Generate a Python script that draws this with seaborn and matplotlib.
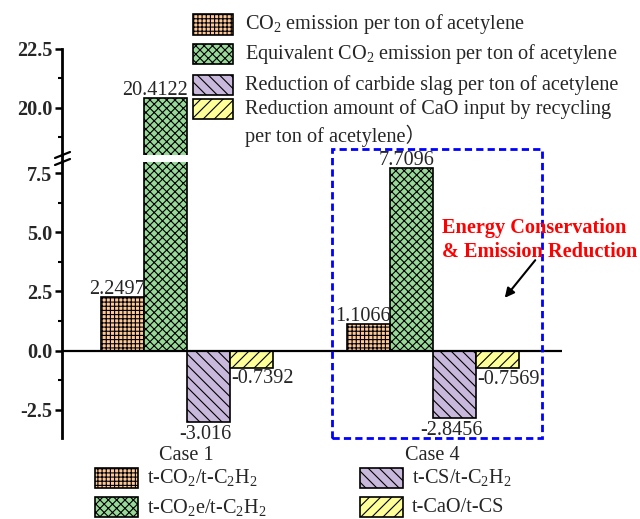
import numpy as np
import pandas as pd
import matplotlib
matplotlib.use("Agg")
import matplotlib.pyplot as plt
from matplotlib.patches import Rectangle, FancyArrowPatch
from matplotlib.lines import Line2D
from matplotlib.ticker import FixedLocator
import seaborn as sns

# ---- data -------------------------------------------------------------
cases = ["Case 1", "Case 4"]
co2_emission = [2.2497, 1.1066]
co2_equivalent = [20.4122, 7.7096]
slag_reduction = [-3.016, -2.8456]
cao_reduction = [-0.7392, -0.7569]

series_keys = ["t-CO2/t-C2H2", "t-CO2e/t-C2H2", "t-CS/t-C2H2", "t-CaO/t-CS"]
short_labels = [r"t-CO$_2$/t-C$_2$H$_2$", r"t-CO$_2$e/t-C$_2$H$_2$",
                r"t-CS/t-C$_2$H$_2$", "t-CaO/t-CS"]
long_labels = [[r"CO$_2$ emission per ton of acetylene"],
               [r"Equivalent CO$_2$ emission per ton of acetylene"],
               ["Reduction of carbide slag per ton of acetylene"],
               ["Reduction amount of CaO input by recycling",
                "per ton of acetylene\uff09"]]
colors = ["#FFC896", "#98D898", "#C8B9DC", "#FFFF99"]
hatches = ["++++", "xxxx", "\\\\\\", "///"]

lower_ticks = [-2.5, 0.0, 2.5, 5.0, 7.5]
lower_minor = [-1.25, 1.25, 3.75, 6.25]
upper_ticks = [20.0, 22.5]
upper_minor = [18.75, 21.25]

series_values = [co2_emission, co2_equivalent, slag_reduction, cao_reduction]
df = pd.DataFrame({
    "case": cases * len(series_keys),
    "metric": np.repeat(series_keys, len(cases)),
    "value": np.concatenate(series_values),
})

# ---- style ------------------------------------------------------------
sns.set_theme(style="white")
plt.rcParams["font.family"] = ["Liberation Serif", "Noto Sans CJK SC"]
plt.rcParams["mathtext.fontset"] = "custom"
plt.rcParams["mathtext.rm"] = "Liberation Serif"
plt.rcParams["mathtext.it"] = "Liberation Serif:italic"
plt.rcParams["mathtext.bf"] = "Liberation Serif:bold"
plt.rcParams["hatch.linewidth"] = 0.8

FS = 14.6
W, H = 640, 519


def fx(x):
    return x / W


def fy(y):
    return 1 - y / H


fig = plt.figure(figsize=(W / 100, H / 100), dpi=100)

ax_lo = fig.add_axes([fx(62), fy(438), 500 / W, 276 / H])
ax_hi = fig.add_axes([fx(62), fy(155), 500 / W, 106 / H])
ax_hi.patch.set_visible(False)

for ax in (ax_lo, ax_hi):
    sns.barplot(data=df, x="case", y="value", hue="metric",
                hue_order=series_keys, palette=colors, saturation=1,
                width=0.7, edgecolor="black", linewidth=1.2,
                errorbar=None, legend=False, ax=ax)
    for container, h in zip(ax.containers, hatches):
        for bar in container:
            bar.set_hatch(h)
    ax.set_xlim(-0.507, 1.526)
    ax.set_xlabel("")
    ax.set_ylabel("")
    for side in ("top", "right", "bottom"):
        ax.spines[side].set_visible(False)
    ax.spines["left"].set_linewidth(2)
    ax.spines["left"].set_color("black")
    ax.tick_params(axis="y", which="major", direction="out", length=5,
                   width=1.8, color="black", left=True, pad=2)
    ax.tick_params(axis="y", which="minor", direction="out", length=3,
                   width=1.5, color="black", left=True)

ax_lo.set_ylim(-3.7, 7.98)
ax_hi.set_ylim(18.0, 22.5)

ax_lo.yaxis.set_major_locator(FixedLocator(lower_ticks))
ax_lo.yaxis.set_minor_locator(FixedLocator(lower_minor))
ax_hi.yaxis.set_major_locator(FixedLocator(upper_ticks))
ax_hi.yaxis.set_minor_locator(FixedLocator(upper_minor))
for ax in (ax_lo, ax_hi):
    ax.set_yticklabels([f"{t:.1f}" for t in ax.get_yticks()],
                       fontsize=FS, fontweight="bold")

ax_hi.set_xticks([])
ax_lo.set_xticks(range(len(cases)))
ax_lo.set_xticklabels(cases, fontsize=FS)
ax_lo.tick_params(axis="x", length=0, pad=6)

ax_lo.axhline(0, color="black", lw=1.6, zorder=5)

# highlighted region around Case 4 (kept beneath the value labels)
ax_lo.add_patch(Rectangle((fx(332), fy(438)), 210 / W, 289 / H, fill=False,
                          edgecolor="#0000FF", lw=2, ls=(0, (2.6, 1.5)),
                          transform=fig.transFigure, clip_on=False,
                          zorder=6))

# value labels on the bars
lo_top = ax_lo.get_ylim()[1]
for i, (container, vals) in enumerate(zip(ax_lo.containers, series_values)):
    for bar, v in zip(container, vals):
        txt = f"{v:g}"
        if v > 0:
            target = ax_hi if v > lo_top else ax_lo
            target.annotate(txt, xy=(bar.get_x() + bar.get_width(), v),
                            xytext=(1, -1), textcoords="offset points",
                            ha="right", va="bottom", fontsize=FS,
                            annotation_clip=False, zorder=8)
        elif i == 2:
            ax_lo.annotate(txt, xy=(bar.get_x() + bar.get_width() / 2, v),
                           xytext=(-2, -2), textcoords="offset points",
                           ha="center", va="top", fontsize=FS,
                           annotation_clip=False, zorder=8)
        else:
            ax_lo.annotate(txt, xy=(bar.get_x(), v),
                           xytext=(1, -1), textcoords="offset points",
                           ha="left", va="top", fontsize=FS,
                           annotation_clip=False, zorder=8)

# continuous axis line across the break, with break marks
fig.add_artist(Line2D([fx(62), fx(62)], [fy(155), fy(162)], lw=2,
                      color="black", transform=fig.transFigure))
for y0 in (158, 165):
    fig.add_artist(Line2D([fx(55), fx(70)], [fy(y0), fy(y0 - 6)], lw=1.6,
                          color="black", transform=fig.transFigure))

# legend with full descriptions (top)
rows = [(14, 35), (44, 64), (75, 95), (99, 119)]
for (top, bot), lines, c, h in zip(rows, long_labels, colors, hatches):
    fig.add_artist(Rectangle((fx(193), fy(bot)), 40 / W, (bot - top) / H,
                             facecolor=c, edgecolor="black", hatch=h,
                             lw=1.2, transform=fig.transFigure))
    yc = (top + bot) / 2
    for k, line in enumerate(lines):
        fig.text(fx(245), fy(yc + k * 27), line, fontsize=FS,
                 ha="left", va="center")

# legend with unit labels (bottom)
slots = [(95, 468), (95, 497), (360, 468), (360, 497)]
for (x0, top), lab, c, h in zip(slots, short_labels, colors, hatches):
    fig.add_artist(Rectangle((fx(x0), fy(top + 20)), 43 / W, 20 / H,
                             facecolor=c, edgecolor="black", hatch=h,
                             lw=1.2, transform=fig.transFigure))
    fig.text(fx(x0 + 52), fy(top + 10), lab, fontsize=FS,
             ha="left", va="center")

fig.text(fx(442), fy(233), "Energy Conservation", fontsize=FS,
         fontweight="bold", color="#FF0000", ha="left", va="baseline")
fig.text(fx(442), fy(257), "& Emission Reduction", fontsize=FS,
         fontweight="bold", color="#FF0000", ha="left", va="baseline")

fig.add_artist(FancyArrowPatch((fx(537), fy(258)), (fx(503), fy(300)),
                               arrowstyle="-|>", mutation_scale=14, lw=1.5,
                               color="black", transform=fig.transFigure))

fig.savefig("out.png", dpi=100)
